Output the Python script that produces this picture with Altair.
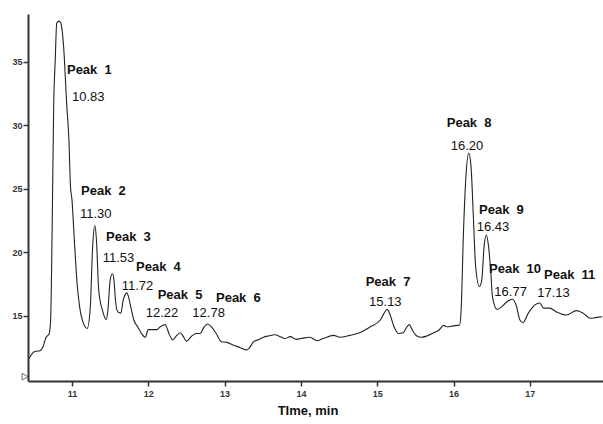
import altair as alt
import pandas as pd

# Chromatogram trace: retention time (min) and detector signal
time_min = [
    10.44, 10.49, 10.53, 10.58, 10.62, 10.66, 10.70, 10.72, 10.74, 10.76,
    10.78, 10.80, 10.83, 10.85, 10.89, 10.93, 10.96, 10.98, 11.00, 11.03,
    11.07, 11.10, 11.15, 11.20, 11.24, 11.27, 11.30, 11.32, 11.35, 11.40,
    11.45, 11.47, 11.50, 11.53, 11.55, 11.57, 11.60, 11.64, 11.67, 11.70,
    11.72, 11.74, 11.77, 11.81, 11.86, 11.91, 11.96, 12.00, 12.07, 12.11,
    12.15, 12.22, 12.24, 12.27, 12.32, 12.36, 12.42, 12.46, 12.50, 12.57,
    12.63, 12.68, 12.73, 12.78, 12.83, 12.89, 12.96, 13.03, 13.11, 13.20,
    13.29, 13.32, 13.38, 13.44, 13.51, 13.57, 13.66, 13.73, 13.79, 13.86,
    13.94, 14.00, 14.12, 14.21, 14.29, 14.43, 14.51, 14.64, 14.77, 14.91,
    15.04, 15.09, 15.13, 15.17, 15.22, 15.28, 15.34, 15.39, 15.42, 15.46,
    15.52, 15.58, 15.65, 15.74, 15.81, 15.87, 15.91, 16.00, 16.08, 16.10,
    16.13, 16.16, 16.20, 16.23, 16.26, 16.29, 16.34, 16.37, 16.40, 16.43,
    16.46, 16.49, 16.51, 16.57, 16.63, 16.70, 16.77, 16.82, 16.87, 16.91,
    16.98, 17.04, 17.13, 17.18, 17.26, 17.35, 17.48, 17.61, 17.70, 17.79,
    17.88, 17.95,
]
signal = [
    11.65, 12.09, 12.20, 12.24, 12.56, 13.30, 13.56, 14.66, 22.00, 31.50,
    35.10, 38.05, 38.20, 38.10, 36.20, 31.70, 28.80, 25.20, 24.10, 21.00,
    17.30, 15.70, 14.40, 14.00, 15.70, 20.40, 22.10, 21.00, 17.00, 15.40,
    14.70, 15.40, 17.80, 18.30, 17.80, 16.20, 15.30, 15.20, 16.20, 16.70,
    16.80, 16.50, 15.70, 14.66, 14.13, 13.60, 13.30, 13.90, 13.90, 13.90,
    14.10, 14.30, 14.10, 13.60, 13.10, 13.35, 13.66, 13.35, 13.00, 13.40,
    13.60, 13.60, 14.10, 14.35, 14.10, 13.60, 12.95, 12.90, 12.70, 12.50,
    12.30, 12.43, 12.95, 13.10, 13.30, 13.40, 13.50, 13.35, 13.20, 13.35,
    13.14, 13.20, 13.30, 13.03, 13.20, 13.45, 13.30, 13.45, 13.66, 14.13,
    14.66, 15.20, 15.50, 15.05, 14.13, 13.60, 13.66, 14.13, 14.30, 13.87,
    13.40, 13.30, 13.40, 13.66, 13.87, 14.24, 14.13, 14.20, 14.27, 15.45,
    21.50, 25.70, 27.80, 26.70, 22.80, 18.86, 17.30, 17.80, 20.40, 21.35,
    20.40, 18.30, 16.50, 15.50, 15.70, 16.10, 16.30, 15.84, 14.66, 14.45,
    15.20, 15.70, 16.00, 15.60, 15.60, 15.30, 15.05, 15.40, 15.20, 14.80,
    14.87, 14.92,
]

# Peak annotations: name, retention time, and where each label block sits
peak_names = [f"Peak\u00a0\u00a0{i}" for i in range(1, 12)]
peak_times = ["10.83", "11.30", "11.53", "11.72", "12.22", "12.78",
              "15.13", "16.20", "16.43", "16.77", "17.13"]
name_x = [10.934, 11.118, 11.446, 11.839, 12.123, 12.887,
          14.849, 15.911, 16.334, 16.465, 17.186]
name_y = [34.35, 24.82, 21.22, 18.86, 16.63, 16.37,
          17.63, 30.20, 23.32, 18.65, 18.20]
time_x = [10.999, 11.105, 11.402, 11.651, 11.966, 12.577,
          14.893, 15.963, 16.304, 16.535, 17.098]
time_y = [32.22, 23.01, 19.54, 17.34, 15.19, 15.19,
          16.10, 28.36, 22.00, 16.89, 16.76]

# Injection marker at the start of the run
marker_time = [10.384]
marker_level = [10.2]

x_ticks = [11, 12, 13, 14, 15, 16, 17]
y_ticks = [15, 20, 25, 30, 35]

trace = pd.DataFrame({"time": time_min, "signal": signal})
labels = pd.DataFrame({
    "name": peak_names, "rt": peak_times,
    "nx": name_x, "ny": name_y, "tx": time_x, "ty": time_y,
})
marker = pd.DataFrame({"time": marker_time, "signal": marker_level})

FONT = "Liberation Sans"
x_scale = alt.Scale(domain=[10.4233, 17.959], zero=False, nice=False)
y_scale = alt.Scale(domain=[9.858, 38.76], zero=False, nice=False)

x_axis = alt.Axis(
    values=x_ticks, format="d", title="TIme, min", grid=False,
    domainWidth=2, domainColor="#333", tickColor="#333", tickSize=5, tickWidth=1.5,
    labelFont=FONT, labelFontSize=9, labelFontWeight="bold", labelColor="#333",
    labelPadding=3, titleFont=FONT, titleFontSize=13, titleFontWeight="bold",
    titleColor="#111", titleX=279.5, titleY=29, titleBaseline="middle",
)
y_axis = alt.Axis(
    values=y_ticks, format="d", title=None, grid=False,
    domainWidth=2, domainColor="#333", tickColor="#333", tickSize=5, tickWidth=1.5,
    labelFont=FONT, labelFontSize=9, labelFontWeight="bold", labelColor="#333",
    labelPadding=1,
)

line = alt.Chart(trace).mark_line(
    color="#222", strokeWidth=1.1, interpolate="monotone", clip=True
).encode(
    x=alt.X("time:Q", scale=x_scale, axis=x_axis),
    y=alt.Y("signal:Q", scale=y_scale, axis=y_axis),
)

tri = alt.Chart(marker).mark_point(
    shape="triangle-right", filled=False, color="#333", size=45, strokeWidth=1
).encode(x=alt.X("time:Q", scale=x_scale), y=alt.Y("signal:Q", scale=y_scale))

names = alt.Chart(labels).mark_text(
    align="left", baseline="middle", font=FONT, fontSize=13,
    fontWeight="bold", color="#111"
).encode(x=alt.X("nx:Q", scale=x_scale), y=alt.Y("ny:Q", scale=y_scale), text="name:N")

times = alt.Chart(labels).mark_text(
    align="left", baseline="middle", font=FONT, fontSize=13, color="#111"
).encode(x=alt.X("tx:Q", scale=x_scale), y=alt.Y("ty:Q", scale=y_scale), text="rt:N")

chart = alt.layer(line, tri, names, times).properties(
    width=575, height=367,
    autosize=alt.AutoSizeParams(type="none"),
    padding={"left": 28, "top": 14, "right": 0, "bottom": 43},
    background="white",
).configure_view(stroke=None, strokeWidth=0)

chart.save("out.html", embed_options={"renderer": "svg", "actions": False})
